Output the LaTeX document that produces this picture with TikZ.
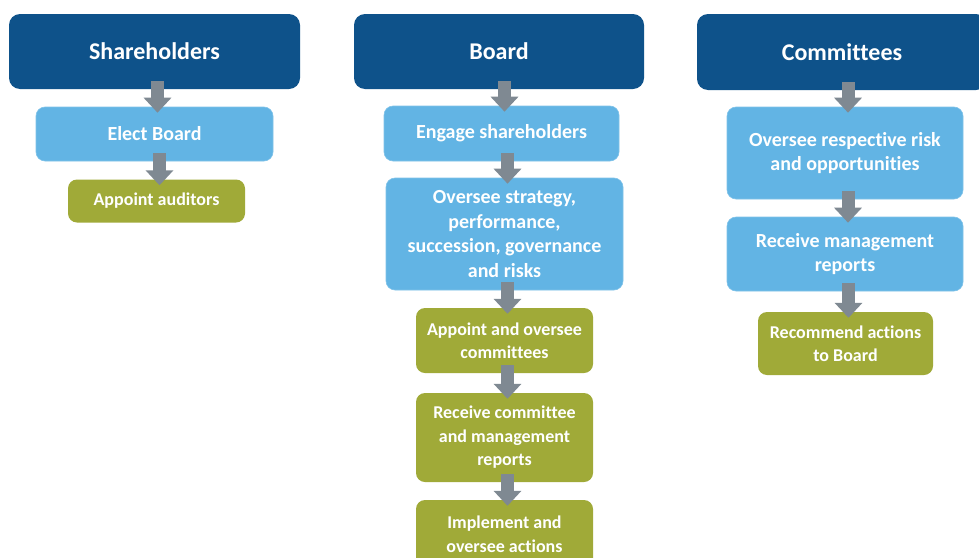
\documentclass[tikz,border=0pt]{standalone}
\usepackage{fontspec}
\setmainfont{Carlito}[Ligatures=NoCommon]
\usetikzlibrary{arrows.meta,calc}

\definecolor{navy}{HTML}{0E528A}
\definecolor{sky}{HTML}{62B4E4}
\definecolor{olive}{HTML}{A0AA38}
\definecolor{steel}{HTML}{7F8992}

\tikzset{
  basebox/.style={rounded corners=9pt, text=white, align=center, inner sep=0pt},
  headbox/.style={basebox, fill=navy, rounded corners=11pt,
    font=\fontsize{24}{29}\selectfont\bfseries},
  taskbox/.style={basebox, fill=sky, draw=sky!80!white, line width=0.6pt,
    font=\fontsize{20}{24.5}\selectfont\bfseries},
  actbox/.style={basebox, fill=olive,
    font=\fontsize{18}{23.5}\selectfont\bfseries},
  flow/.style={draw=steel, line width=13pt, -{Triangle[width=27pt,length=15pt]}}
}

\begin{document}
\begin{tikzpicture}[x=1pt,y=-1pt]
\clip (0,0) rectangle (979,557);
\fill[white] (0,0) rectangle (979,557);

% Shareholders column
\node[headbox, minimum width=291pt, minimum height=75pt] (sh) at (154.5,51.5) {Shareholders};
\node[taskbox, minimum width=237pt, minimum height=54pt] (eb) at (154.5,134) {Elect Board};
\node[actbox, minimum width=177pt, minimum height=43pt] (aa) at (156.5,201) {Appoint auditors};

% Board column
\node[headbox, minimum width=290pt, minimum height=75pt] (bd) at (499,51.5) {Board};
\node[taskbox, minimum width=235pt, minimum height=55pt] (es) at (501.5,133.5) {Engage shareholders};
\node[taskbox, minimum width=237pt, minimum height=112pt] (os) at (504.5,234)
  {Oversee strategy,\\performance,\\succession, governance\\and risks};
\node[actbox, minimum width=177pt, minimum height=65pt] (ao) at (504.5,340.5)
  {Appoint and oversee\\committees};
\node[actbox, minimum width=177pt, minimum height=89pt] (rc) at (504.5,437.5)
  {Receive committee\\and management\\reports};
\node[actbox, minimum width=177pt, minimum height=68pt] (io) at (504.5,534)
  {Implement and\\oversee actions};

% Committees column
\node[headbox, minimum width=290pt, minimum height=76pt] (cm) at (842,52) {Committees};
\node[taskbox, minimum width=236pt, minimum height=92pt] (or) at (845,153)
  {Oversee respective risk\\and opportunities};
\node[taskbox, minimum width=236pt, minimum height=74pt] (rm) at (845,254)
  {Receive management\\reports};
\node[actbox, minimum width=175pt, minimum height=63pt] (ra) at (845.5,343.5)
  {Recommend actions\\to Board};

% Connecting arrows
\foreach \a/\b in {sh/eb, eb/aa, bd/es, es/os, os/ao, ao/rc, rc/io, cm/or, or/rm, rm/ra}
  \draw[flow] ($(\b.north |- \a.south)+(3,-8)$) -- ($(\b.north)+(3,6)$);
\end{tikzpicture}
\end{document}
